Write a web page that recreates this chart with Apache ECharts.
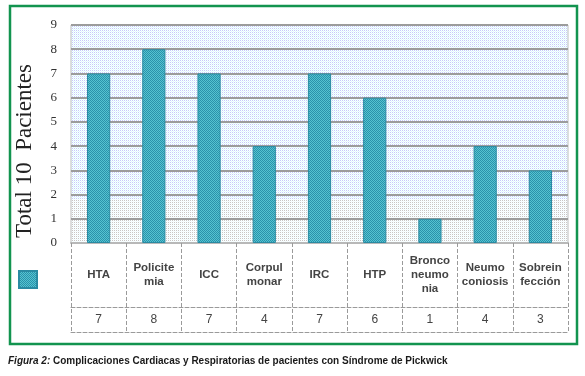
<!DOCTYPE html>
<html>
<head>
<meta charset="utf-8">
<script src="https://cdn.jsdelivr.net/npm/echarts@6/dist/echarts.min.js"></script>
<style>
  html, body { margin: 0; padding: 0; background: #fff; }
  #chart { width: 585px; height: 376px; }
</style>
</head>
<body>
<div id="chart"></div>
<script>
// datos
var categorias = ['HTA', 'Policite\nmia', 'ICC', 'Corpul\nmonar', 'IRC', 'HTP', 'Bronco\nneumo\nnia', 'Neumo\nconiosis', 'Sobrein\nfección'];
var pacientes = [7, 8, 7, 4, 7, 6, 1, 4, 3];
var ticksY = [0, 1, 2, 3, 4, 5, 6, 7, 8, 9];

// pequeños patrones de relleno
function makePattern(size, fn) {
    var c = document.createElement('canvas');
    c.width = size; c.height = size;
    var ctx = c.getContext('2d');
    for (var y = 0; y < size; y++) {
        for (var x = 0; x < size; x++) {
            ctx.fillStyle = fn(x, y);
            ctx.fillRect(x, y, 1, 1);
        }
    }
    return { image: c, repeat: 'repeat' };
}
var barPattern = makePattern(2, function (x, y) {
    return (x + y) % 2 === 0 ? '#2b91ab' : '#55c4d0';
});
var bluePattern = makePattern(2, function (x, y) {
    if (x === 0 && y === 0) return '#c4ccfa';
    if (x === 1 && y === 1) return '#dcfbff';
    return '#ffffff';
});
var grayPattern = makePattern(2, function (x, y) {
    if (x === 0 && y === 0) return '#c6c6c6';
    if (x === 1 && y === 1) return '#eefcff';
    return '#ffffff';
});

var myChart = echarts.init(document.getElementById('chart'));

var option = {
    backgroundColor: '#ffffff',
    animation: false,
    grid: {
        left: 71, right: 17, top: 25, bottom: 133,
        show: true,
        backgroundColor: 'transparent',
        borderColor: '#bdbdbd',
        borderWidth: 1
    },
    legend: {
        data: ['Pacientes'],
        left: 13, top: 265,
        itemWidth: 18, itemHeight: 17,
        icon: 'rect',
        formatter: function () { return ''; },
        selectedMode: false
    },
    xAxis: [{
        type: 'category',
        data: categorias,
        position: 'bottom',
        axisLine: { lineStyle: { color: '#b8b8b8', width: 2 } },
        axisTick: { show: true, interval: 0, length: 89, lineStyle: { color: '#9a9a9a', type: 'dashed', width: 1 } },
        axisLabel: {
            interval: 0,
            margin: 32,
            verticalAlign: 'middle',
            fontFamily: 'Liberation Sans',
            fontSize: 11.5,
            fontWeight: 'bold',
            lineHeight: 14,
            color: '#444'
        },
        splitLine: { show: false }
    }, {
        type: 'category',
        data: categorias,
        position: 'bottom',
        offset: 64,
        axisLine: { lineStyle: { color: '#9a9a9a', type: 'dashed', width: 1 } },
        axisTick: { show: false },
        axisLabel: {
            interval: 0,
            margin: 13,
            verticalAlign: 'middle',
            fontFamily: 'Liberation Sans',
            fontSize: 12,
            color: '#444',
            formatter: function (v, i) { return String(pacientes[i]); }
        }
    }, {
        type: 'category',
        data: categorias,
        position: 'bottom',
        offset: 89,
        axisLine: { lineStyle: { color: '#9a9a9a', type: 'dashed', width: 1 } },
        axisTick: { show: false },
        axisLabel: { show: false }
    }],
    yAxis: {
        type: 'value',
        min: ticksY[0],
        max: ticksY[ticksY.length - 1],
        interval: 1,
        axisLine: { show: false },
        axisTick: { show: false },
        axisLabel: {
            margin: 14,
            fontFamily: 'Liberation Serif',
            fontSize: 13,
            color: '#333'
        },
        splitLine: { lineStyle: { color: '#9c9c9c', width: 2 } }
    },
    series: [{
        name: 'fondo',
        type: 'line',
        data: [],
        z: -1,
        silent: true,
        markArea: {
            silent: true,
            z: -1,
            data: [
                [{ yAxis: 1.8, itemStyle: { color: bluePattern } }, { yAxis: 9 }],
                [{ yAxis: 0, itemStyle: { color: grayPattern } }, { yAxis: 1.8 }]
            ]
        }
    }, {
        name: 'Pacientes',
        type: 'bar',
        data: pacientes,
        barWidth: '42%',
        itemStyle: {
            color: barPattern,
            borderColor: '#2a8aa2',
            borderWidth: 1
        }
    }],
    graphic: [{
        type: 'rect',
        shape: { x: 10, y: 6, width: 567, height: 338 },
        style: { fill: 'none', stroke: '#12944f', lineWidth: 2.5 },
        silent: true
    }, {
        type: 'text',
        x: 25, y: 151,
        rotation: Math.PI / 2,
        style: {
            text: 'Total 10  Pacientes',
            fontFamily: 'Liberation Serif',
            fontSize: 23,
            fill: '#222',
            align: 'center',
            verticalAlign: 'middle'
        }
    }, {
        type: 'text',
        x: 8, y: 361,
        style: {
            text: '{i|Figura 2:} Complicaciones Cardiacas y Respiratorias de pacientes con Síndrome de Pickwick',
            fontFamily: 'Liberation Sans',
            fontSize: 10,
            fontWeight: 'bold',
            fill: '#1a1a1a',
            verticalAlign: 'middle',
            rich: {
                i: { fontStyle: 'italic', fontFamily: 'Liberation Sans', fontSize: 10, fontWeight: 'bold', fill: '#1a1a1a' }
            }
        }
    }]
};

myChart.setOption(option);
</script>
</body>
</html>
